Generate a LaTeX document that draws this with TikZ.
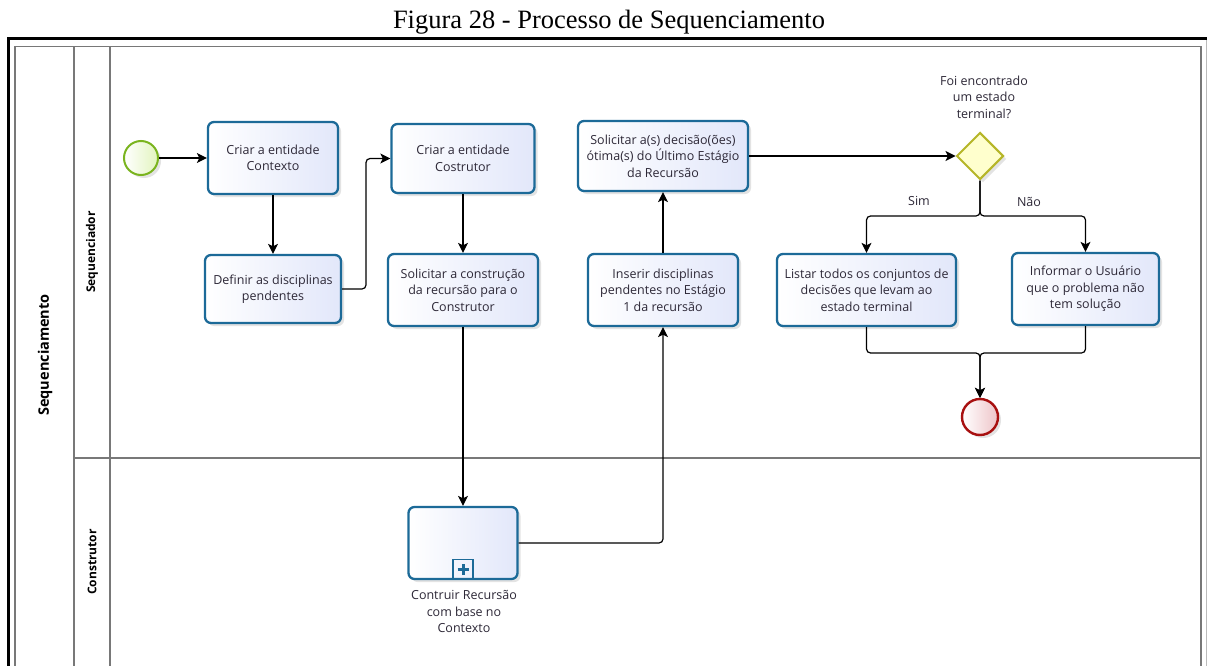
\documentclass[tikz,border=0pt]{standalone}
\usepackage{fontspec}
\setmainfont{Open Sans}
\newfontfamily\titlefont{Liberation Serif}
\usetikzlibrary{arrows.meta,shapes.geometric,shadows}

\definecolor{taskline}{RGB}{28,106,152}
\definecolor{taskfill}{RGB}{226,231,250}
\definecolor{startline}{RGB}{122,180,30}
\definecolor{startfill}{RGB}{226,244,190}
\definecolor{endline}{RGB}{168,16,16}
\definecolor{endfill}{RGB}{238,196,200}
\definecolor{gateline}{RGB}{182,182,40}
\definecolor{gatefill}{RGB}{255,255,205}
\definecolor{laneline}{RGB}{120,120,120}
\definecolor{txt}{RGB}{45,40,55}

\tikzset{
  softshadow/.style={drop shadow={shadow xshift=3pt,shadow yshift=-3pt,opacity=0.18,fill=black!60}},
  task/.style={rectangle,rounded corners=6pt,draw=taskline,line width=2.3pt,
    left color=white,right color=taskfill,align=center,inner sep=0pt,text=txt,
    font=\fontsize{12.5}{16.5}\selectfont,softshadow},
  startev/.style={circle,draw=startline,line width=2pt,inner sep=0pt,minimum size=34pt,
    left color=white,right color=startfill,softshadow},
  endev/.style={circle,draw=endline,line width=2.4pt,inner sep=0pt,minimum size=36pt,
    left color=white,right color=endfill,softshadow},
  gateway/.style={diamond,aspect=1,draw=gateline,line width=2pt,inner sep=0pt,
    minimum width=47pt,minimum height=47pt,fill=gatefill,softshadow},
  label/.style={align=center,text=txt,font=\fontsize{12.5}{16.5}\selectfont},
  lanetitle/.style={rotate=90,font=\bfseries\fontsize{12}{14}\selectfont},
  conn/.style={draw,line width=1.2pt,rounded corners=4pt,
    -{Stealth[length=10pt,width=10pt,inset=2.5pt]}},
  frameline/.style={draw=laneline,line width=1.3pt}
}

\begin{document}
\begin{tikzpicture}[x=1pt,y=-1pt]
\useasboundingbox (0,0) rectangle (1207,666);
\fill[white] (0,0) rectangle (1207,666);

% caption
\node[font=\titlefont\fontsize{26.5}{30}\selectfont,anchor=base] (caption) at (609,29) {Figura 28 - Processo de Sequenciamento};

% pool and lanes
\draw[line width=3.5pt] (8.7,666) -- (8.7,38.5) -- (1207,38.5);
\draw[frameline] (15,666) -- (15,46.5) -- (1201,46.5) -- (1201,666);
\draw[laneline!50,line width=1pt] (1206,40) -- (1206,666);
\draw[frameline] (74,46.5) -- (74,666);
\draw[frameline] (110,46.5) -- (110,666);
\draw[frameline] (74,458) -- (1201,458);

\node[lanetitle,font=\bfseries\fontsize{14.5}{16}\selectfont] (pool) at (45,355) {Sequenciamento};
\node[lanetitle] (laneA) at (92,252) {Sequenciador};
\node[lanetitle] (laneB) at (92,562) {Construtor};

% events and gateway
\node[startev] (start) at (141,158) {};
\node[endev] (end) at (980,417) {};
\node[gateway] (gw) at (980,156) {};
\node[label,anchor=south] (gwlabel) at (984,122) {Foi encontrado\\um estado\\terminal?};

% tasks
\node[task,minimum width=130pt,minimum height=72pt] (t1) at (273,158) {Criar a entidade\\Contexto};
\node[task,minimum width=136pt,minimum height=68pt] (t2) at (273,289) {Definir as disciplinas\\pendentes};
\node[task,minimum width=143pt,minimum height=69pt] (t3) at (463,158.5) {Criar a entidade\\Costrutor};
\node[task,minimum width=150pt,minimum height=72pt] (t4) at (463,290) {Solicitar a construção\\da recursão para o\\Construtor};
\node[task,minimum width=170pt,minimum height=70pt] (t5) at (663,156) {Solicitar a(s) decisão(ões)\\ótima(s) do Último Estágio\\da Recursão};
\node[task,minimum width=150pt,minimum height=72pt] (t6) at (663,290) {Inserir disciplinas\\pendentes no Estágio\\1 da recursão};
\node[task,minimum width=179pt,minimum height=72pt] (t7) at (866.5,290) {Listar todos os conjuntos de\\decisões que levam ao\\estado terminal};
\node[task,minimum width=147pt,minimum height=72pt] (t8) at (1085.5,289) {Informar o Usuário\\que o problema não\\tem solução};

% collapsed sub-process
\node[task,minimum width=109pt,minimum height=72pt] (sub) at (463,543) {};
\node[draw=taskline,line width=1.6pt,minimum size=20pt,inner sep=0pt,anchor=south] (plus) at (sub.south) {};
\draw[taskline,line width=3pt] ([yshift=-5.5pt]plus.center) -- ([yshift=5.5pt]plus.center)
  ([xshift=-5.5pt]plus.center) -- ([xshift=5.5pt]plus.center);
\node[label,anchor=north] (sublabel) at (464,587) {Contruir Recursão\\com base no\\Contexto};

% sequence flows
\draw[conn] (start) -- (t1);
\draw[conn] (t1) -- (t2);
\draw[conn] (t2.east) -- (366,289) |- (t3.west);
\draw[conn] (t3) -- (t4);
\draw[conn] (t4.south) -- (sub.north);
\draw[conn] (sub.east) -| (t6.south);
\draw[conn] (t6) -- (t5);
\draw[conn] (t5.east |- gw.west) -- (gw.west);
\draw[conn] (gw.south) -- (980,216) -| (t7.north);
\draw[conn] (gw.south) -- (980,216) -| (t8.north);
\draw[conn] (t7.south) |- (980,353) -- (end.north);
\draw[conn] (t8.south) |- (980,353) -- (end.north);

\node[label] (yes) at (919,201) {Sim};
\node[label] (no) at (1029,202) {Não};
\end{tikzpicture}
\end{document}
